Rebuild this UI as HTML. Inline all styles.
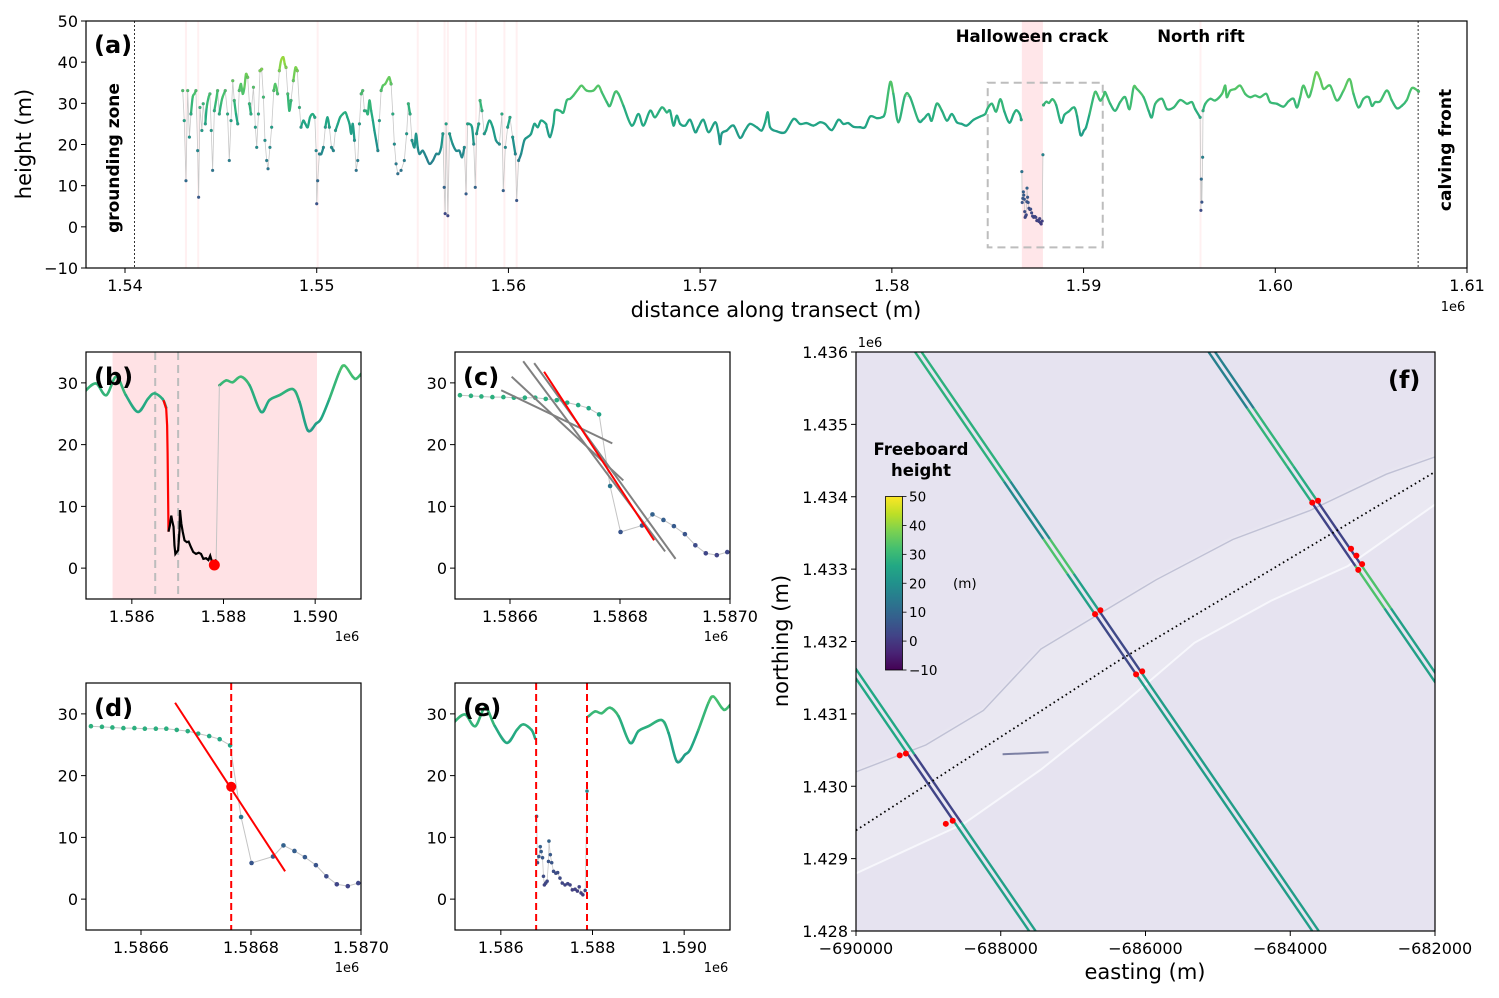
<!DOCTYPE html>
<html><head><meta charset="utf-8">
<style>
body{margin:0;background:#fff;width:1499px;height:998px;overflow:hidden}
svg{display:block;font-family:"DejaVu Sans","Liberation Sans",sans-serif}
</style></head>
<body>
<svg id="fig" width="1499" height="998" viewBox="0 0 1499 998">
<defs>
<clipPath id="clipA"><rect x="86" y="21" width="1381" height="247"/></clipPath>
<clipPath id="clipB"><rect x="86" y="352" width="275" height="247"/></clipPath>
<clipPath id="clipC"><rect x="455" y="352" width="275" height="247"/></clipPath>
<clipPath id="clipD"><rect x="86" y="683" width="275" height="247"/></clipPath>
<clipPath id="clipE"><rect x="455" y="683" width="275" height="247"/></clipPath>
<clipPath id="clipF"><rect x="856" y="352" width="579" height="579"/></clipPath>
<linearGradient id="cbGrad" x1="0" y1="1" x2="0" y2="0">
<stop offset="0" stop-color="#440154"/><stop offset="0.1" stop-color="#482475"/><stop offset="0.2" stop-color="#414487"/><stop offset="0.3" stop-color="#355f8d"/><stop offset="0.4" stop-color="#2a788e"/><stop offset="0.5" stop-color="#21918c"/><stop offset="0.6" stop-color="#22a884"/><stop offset="0.7" stop-color="#44bf70"/><stop offset="0.8" stop-color="#7ad151"/><stop offset="0.9" stop-color="#bddf26"/><stop offset="1" stop-color="#fde725"/>
</linearGradient>
<filter id="blur2"><feGaussianBlur stdDeviation="1.2"/></filter>
</defs>
<g id="layer"></g>
<text x="25" y="144" font-size="21" text-anchor="middle" transform="rotate(-90 25 144)" dominant-baseline="middle">height (m)</text>
<text x="776" y="317" font-size="21" text-anchor="middle">distance along transect (m)</text>
<text x="1453" y="311" font-size="13" text-anchor="middle">1e6</text>
<text x="94" y="53" font-size="24" font-weight="bold">(a)</text>
<text x="114" y="158" font-size="17" font-weight="bold" text-anchor="middle" dominant-baseline="middle" transform="rotate(-90 114 158)">grounding zone</text>
<text x="1446" y="150" font-size="17" font-weight="bold" text-anchor="middle" dominant-baseline="middle" transform="rotate(-90 1446 150)">calving front</text>
<text x="1032" y="42" font-size="16.5" font-weight="bold" text-anchor="middle">Halloween crack</text>
<text x="1201" y="42" font-size="16.5" font-weight="bold" text-anchor="middle">North rift</text>
<text x="94" y="385" font-size="24" font-weight="bold">(b)</text>
<text x="463" y="385" font-size="24" font-weight="bold">(c)</text>
<text x="94" y="716" font-size="24" font-weight="bold">(d)</text>
<text x="463" y="716" font-size="24" font-weight="bold">(e)</text>
<text x="347" y="641" font-size="13" text-anchor="middle">1e6</text>
<text x="716" y="641" font-size="13" text-anchor="middle">1e6</text>
<text x="347" y="972" font-size="13" text-anchor="middle">1e6</text>
<text x="716" y="972" font-size="13" text-anchor="middle">1e6</text>
<text x="870" y="347" font-size="13" text-anchor="middle">1e6</text>
<text x="782" y="641" font-size="21" text-anchor="middle" dominant-baseline="middle" transform="rotate(-90 782 641)">northing (m)</text>
<text x="1145" y="979" font-size="21" text-anchor="middle">easting (m)</text>
</svg>
<script>
// ---------- DATA ----------
const profKm=[1543.01,1543.09,1543.18,1543.27,1543.36,1543.44,1543.53,1543.62,1543.70,1543.79,
1543.84,1543.91,1544.01,1544.08,1544.19,1544.26,1544.36,1544.43,1544.50,1544.57,
1544.66,1544.75,1544.83,1544.92,1545.01,1545.09,1545.23,1545.35,1545.44,1545.53,
1545.62,1545.70,1545.79,1545.88,1545.96,1546.05,1546.14,1546.23,1546.31,1546.40,
1546.49,1546.57,1546.70,1546.80,1546.87,1546.96,1547.04,1547.13,1547.22,1547.30,
1547.39,1547.46,1547.56,1547.65,1547.76,1547.84,1547.96,1548.05,1548.14,1548.26,
1548.33,1548.40,1548.49,1548.57,1548.66,1548.78,1548.89,1548.99,1549.10,1549.18,
1549.30,1549.41,1549.53,1549.65,1549.79,1549.90,1549.97,1550.00,1550.05,1550.14,
1550.24,1550.35,1550.45,1550.56,1550.66,1550.77,1550.87,1550.98,1551.10,1551.22,
1551.36,1551.50,1551.60,1551.71,1551.80,1551.88,1551.97,1552.06,1552.14,1552.23,
1552.32,1552.40,1552.49,1552.58,1552.67,1552.75,1552.84,1552.93,1553.01,1553.10,
1553.19,1553.27,1553.36,1553.45,1553.57,1553.71,1553.79,1553.88,1553.97,1554.05,
1554.14,1554.23,1554.40,1554.57,1554.69,1554.78,1554.87,1554.97,1555.10,1555.18,
1555.27,1555.36,1555.53,1555.71,1555.88,1556.06,1556.23,1556.37,1556.49,1556.58,
1556.65,1556.70,1556.75,1556.84,1556.93,1557.09,1557.27,1557.44,1557.58,1557.70,
1557.79,1557.87,1557.96,1558.10,1558.19,1558.27,1558.34,1558.45,1558.52,1558.62,
1558.74,1558.83,1559.00,1559.18,1559.35,1559.53,1559.66,1559.73,1559.84,1559.96,
1560.08,1560.22,1560.36,1560.43,1560.53,1560.66,1560.83,1561.00,1561.18,1561.35,
1561.53,1561.70,1561.96,
1562.00,1562.17,1562.35,1562.43,1562.69,1562.87,1563.04,1563.22,1563.39,1563.65,
1563.82,1564.08,1564.43,1564.69,1564.87,1565.13,1565.30,1565.56,1565.74,1566.00,
1566.43,1566.78,1567.04,1567.39,1567.65,1568.00,1568.26,1568.43,1568.61,1568.78,
1568.96,1569.22,1569.48,1569.74,1569.91,1570.17,1570.44,1570.79,1570.96,1571.04,
1571.13,1571.39,1571.74,1572.08,1572.34,1572.60,1572.95,1573.21,1573.39,1573.53,
1573.65,1574.00,1574.43,1574.87,1575.21,1575.56,1575.91,1576.26,1576.52,1576.87,
1577.21,1577.47,1577.73,1578.00,1578.34,1578.60,1578.87,1579.21,1579.47,1579.65,
1579.91,1580.08,1580.34,1580.69,1580.95,1581.39,1581.65,1581.91,1582.08,1582.34,
1582.61,1582.87,1583.13,1583.39,1583.65,1583.91,1584.26,1584.61,1584.87,
1585.00,1585.22,1585.44,1585.66,1585.87,1586.13,1586.35,1586.49,1586.67,1586.75];
const profH=[33.1,25.8,11.2,33.1,21.8,27.4,31.5,32.3,33.1,18.5,
7.2,29.0,23.4,29.9,25.0,29.0,31.5,32.3,23.4,13.7,
28.2,30.7,33.1,27.4,29.9,31.5,33.1,27.4,16.1,25.8,
35.5,30.7,27.4,25.0,33.1,34.7,32.3,33.9,37.1,36.3,
29.9,27.4,33.9,24.2,19.3,27.4,37.9,38.3,31.5,21.0,
16.1,14.1,19.3,24.2,33.1,34.7,32.3,37.9,40.4,41.2,
39.6,38.7,32.3,28.2,30.7,35.5,38.7,37.9,29.0,24.2,
25.8,25.0,24.2,26.6,27.4,26.6,18.5,5.6,11.2,17.7,
17.7,19.3,24.2,26.6,24.2,19.3,18.5,23.4,25.0,26.6,
27.4,27.8,26.6,25.0,22.6,25.0,21.0,13.7,16.1,25.0,
32.3,33.1,28.2,28.2,27.4,30.7,28.2,25.8,23.4,21.0,
18.5,25.8,33.1,34.3,34.7,35.9,36.3,34.7,27.4,20.1,
15.3,12.9,13.7,16.1,22.6,29.9,27.4,21.0,19.3,22.6,
19.3,17.7,18.5,16.9,15.3,16.1,17.7,17.7,19.3,22.6,
9.6,3.2,25.0,2.7,22.6,20.1,18.5,18.5,16.9,19.3,
8.0,25.0,25.0,24.2,20.1,9.6,22.6,25.0,30.7,28.2,
22.6,23.4,25.8,24.2,21.0,20.1,27.4,8.8,19.3,24.2,
26.6,21.8,17.7,6.4,16.1,17.7,21.0,21.8,22.6,25.0,
24.2,25.8,25.0,
24.2,21.8,25.0,28.2,28.2,27.8,30.7,31.1,31.9,33.5,
34.3,33.1,33.1,34.3,32.7,30.3,29.4,32.7,32.3,29.4,
24.6,27.4,24.6,28.2,26.6,29.0,27.8,28.2,24.6,27.0,
25.0,24.6,26.0,23.0,24.2,26.0,23.0,25.4,22.6,20.1,
22.7,23.4,24.6,21.6,23.4,25.0,24.2,23.4,25.4,27.8,
24.2,23.2,23.0,26.2,25.0,25.2,24.6,25.4,25.0,23.5,
26.0,25.0,25.2,24.3,24.2,24.2,26.8,26.4,26.6,27.8,
35.1,32.3,25.4,31.9,31.5,25.8,26.2,27.4,25.8,29.9,
28.2,25.8,27.4,25.4,25.0,24.6,26.0,26.8,27.4,
28.8,29.9,28.0,31.0,28.0,25.3,27.4,28.3,27.4,26.0];
const crackKm=[1586.78,1586.80,1586.83,1586.86,1586.88,1586.91,1586.93,1586.95,1586.98,1587.01,1587.04,1587.05,1587.08,1587.11,1587.15,1587.20,1587.24,1587.29,1587.34,1587.40,1587.46,1587.51,1587.56,1587.62,1587.67,1587.71,1587.75,1587.79,1587.84,1587.88];
const crackH=[13.4,5.9,6.9,8.5,7.7,6.7,3.7,2.3,2.6,2.9,6.1,9.4,7.2,5.9,4.5,4.2,4.3,3.4,2.6,2.3,2.5,2.3,1.5,1.6,1.3,2.0,1.0,0.7,1.4,17.5];
const eastKm=[1587.91,1588.06,1588.20,1588.38,1588.57,1588.82,1589.00,1589.22,1589.51,1589.66,1589.84,1590.02,1590.13,1590.31,1590.53,1590.64,1590.82,1590.90,1591.04,
1591.13,1591.39,1591.65,1591.91,1592.17,1592.40,1592.61,1592.78,1593.13,1593.39,1593.56,1593.74,1594.09,1594.35,1594.70,1595.04,1595.39,1595.65,1595.82,1596.08,1596.12,1596.14,1596.17,1596.21,1596.23,1596.35,1596.61,1596.87,1597.22,1597.39,1597.47,1597.65,1597.91,1598.17,1598.43,1598.69,1598.95,1599.21,1599.53,1599.73,1600.08,1600.43,1600.69,1600.95,1601.13,1601.30,1601.47,1601.73,1601.91,1602.13,1602.34,1602.52,1602.86,1603.21,1603.56,1603.87,1604.08,1604.34,1604.60,1604.87,1605.04,1605.21,1605.47,1605.82,1606.08,1606.34,1606.60,1606.86,1607.13,1607.47];
const eastH=[29.6,30.4,30.1,31.0,29.6,25.3,27.2,28.0,29.0,26.9,22.3,23.4,24.2,27.4,31.8,32.8,31.0,30.7,31.8,
32.7,29.9,28.2,30.3,31.5,28.6,33.9,33.5,31.5,28.2,26.6,29.9,31.1,28.6,29.0,30.8,29.9,30.3,28.6,26.6,4.0,11.6,6.0,16.9,28.2,29.9,31.1,30.7,32.3,34.3,31.5,33.1,33.5,34.3,32.3,31.5,31.9,31.5,32.3,30.3,29.9,29.2,30.5,31.1,29.0,31.5,34.3,31.5,33.5,37.5,35.9,33.5,34.3,30.7,33.1,35.9,32.3,29.0,31.1,31.5,29.4,30.3,30.5,33.1,30.7,28.8,29.4,30.8,33.7,32.9];
const riftKm=[1543.18,1543.82,1550.05,1555.27,1556.67,1556.84,1557.79,1558.31,1559.79,1560.43,1596.10];
const halloweenBand=[1586.78,1587.88];
const groundingKm=1540.5, calvingKm=1607.45;
const fineKm=[1586.509,1586.529,1586.548,1586.568,1586.588,1586.607,1586.627,1586.646,1586.665,1586.685,1586.704,1586.724,1586.743,1586.762,1586.782,1586.801,1586.840,1586.859,1586.879,1586.898,1586.918,1586.937,1586.956,1586.976,1586.995];
const fineH=[28.0,27.9,27.8,27.7,27.7,27.6,27.6,27.6,27.4,27.2,26.8,26.4,25.9,24.9,13.3,5.85,6.9,8.7,7.8,6.8,5.5,3.7,2.4,2.1,2.6];
const fitStartKm=[1586.624,1586.644,1586.603,1586.584];
const fitStartH=[33.5,33.2,31.0,28.8];
const fitEndKm=[1586.882,1586.901,1586.806,1586.786];
const fitEndH=[2.7,1.5,14.2,20.2];
const bestFitKm=[1586.662,1586.862];
const bestFitH=[31.8,4.5];
const edgeKm=1586.764, edgeH=18.2;
const redCurveKm=[1586.69,1586.75,1586.77,1586.78,1586.80];
const redCurveH=[27.2,25.8,23.1,18.8,5.9];
const floorPointKm=1587.80, floorPointH=0.5;
const bDashKm=[1586.51,1587.01];
const bBand=[1585.58,1590.04];
const eDashKm=[1586.77,1587.88];
const trackE0=[-689184,-685128,-693096];
const trackSlope=0.686;
const beamOffset=90;
const trackBreaksA=[1436000,1434211,1433415,1432937,1432406,1431567,1428000];
const trackHA=[28,18,33,24,3,23];
const trackBreaksB=[1436000,1435220,1434423,1433935,1433043,1432459,1428000];
const trackHB=[16,29,27,2,33,24];
const trackBreaksC=[1433000,1430442,1429497,1428000];
const trackHC=[26,2,24];
const edgeE=[-686697,-686623,-686130,-686045,-683696,-683616,-683160,-683086,-683007,-683060,-689396,-689311,-688759,-688664];
const edgeN=[1432379,1432432,1431546,1431588,1433919,1433945,1433282,1433186,1433069,1432990,1430426,1430452,1429481,1429523];
const transectE=[-690000,-686384,-682000];
const transectN=[1429390,1431726,1434344];

// ---------- HELPERS ----------
const NS='http://www.w3.org/2000/svg';
const layer=document.getElementById('layer');
function lin(d0,d1,r0,r1){return v=>r0+(v-d0)/(d1-d0)*(r1-r0);}
function el(tag,attrs,parent,name){
  const e=document.createElementNS(NS,tag);
  for(const k in attrs) e.setAttribute(k,attrs[k]);
  
  
  parent.appendChild(e);return e;
}
function txt(s,attrs,parent,name){const t=el('text',attrs,parent,name);t.textContent=s;return t;}
const VIR=[[68,1,84],[72,36,117],[65,68,135],[53,95,141],[42,120,142],[33,145,140],[34,168,132],[68,191,112],[122,209,81],[189,223,38],[253,231,37]];
function vir(h){let t=(h+10)/60;t=Math.max(0,Math.min(1,t));const f=t*10,i=Math.min(9,Math.floor(f)),r=f-i;
 const a=VIR[i],b=VIR[i+1];return 'rgb('+[0,1,2].map(k=>Math.round(a[k]+(b[k]-a[k])*r)).join(',')+')';}
function minus(s){return String(s).replace('-','\u2212');}
function frame(x,y,w,h,name){
  el('rect',{x:x,y:y,width:w,height:h,fill:'none',stroke:'#000','stroke-width':1.2},layer,name);
}
function xTicks(vals,labels,X,yb,g,name){
  vals.forEach((v,i)=>{
    el('line',{x1:X(v),x2:X(v),y1:yb,y2:yb+5,stroke:'#000','stroke-width':1},g,name+'-tick');
    txt(labels[i],{x:X(v),y:yb+23,'font-size':16,'text-anchor':'middle'},g,name+'-label');
  });
}
function yTicks(vals,labels,Y,xl,g,name){
  vals.forEach((v,i)=>{
    el('line',{x1:xl-5,x2:xl,y1:Y(v),y2:Y(v),stroke:'#000','stroke-width':1},g,name+'-tick');
    txt(labels[i],{x:xl-8,y:Y(v)+6,'font-size':16,'text-anchor':'end'},g,name+'-label');
  });
}
function profile(g,xs,ys,X,Y,opt){
  const pts=xs.map((x,i)=>X(x)+','+Y(ys[i])).join(' ');
  el('polyline',{points:pts,fill:'none',stroke:'#c8c8c8','stroke-width':0.8},g,'profile-connector');
  const ok=i=>{
    if(i<0||i>=xs.length-1) return false;
    const lim=xs[i]>1561.9?7.5:4.5;
    return opt.w>0&&Math.abs(ys[i+1]-ys[i])<lim&&xs[i+1]-xs[i]<opt.gap&&ys[i]>15&&ys[i+1]>15;
  };
  for(let i=0;i<xs.length-1;i++){
    if(!ok(i)) continue;
    const p1=[X(xs[i]),Y(ys[i])],p2=[X(xs[i+1]),Y(ys[i+1])];
    const p0=ok(i-1)?[X(xs[i-1]),Y(ys[i-1])]:p1;
    const p3=ok(i+1)?[X(xs[i+2]),Y(ys[i+2])]:p2;
    const c1=[p1[0]+(p2[0]-p0[0])/6,p1[1]+(p2[1]-p0[1])/6];
    const c2=[p2[0]-(p3[0]-p1[0])/6,p2[1]-(p3[1]-p1[1])/6];
    el('path',{d:'M'+p1+' C'+c1+' '+c2+' '+p2,fill:'none',stroke:vir((ys[i]+ys[i+1])/2),'stroke-width':opt.w,'stroke-linecap':'round'},g,'profile-segment');
  }
  if(opt.r>0) xs.forEach((x,i)=>{
    if(ok(i)&&ok(i-1)) return;
    el('circle',{cx:X(x),cy:Y(ys[i]),r:opt.r,fill:vir(ys[i]),stroke:'rgba(60,60,90,0.35)','stroke-width':0.4},g,'profile-point');
  });
}

// ---------- PANEL A ----------
(function(){
  const g=el('g',{'clip-path':'url(#clipA)'},layer,'panel-a-plot');
  const X=lin(1540,1610,125,1467),Y=lin(-10,50,268,21);
  riftKm.forEach(k=>el('rect',{x:X(k)-1,y:21,width:2,height:247,fill:'#fff0f1'},g,'rift-band'));
  el('rect',{x:X(halloweenBand[0]),y:21,width:X(halloweenBand[1])-X(halloweenBand[0]),height:247,fill:'#ffe6e9'},g,'halloween-band');
  el('rect',{x:X(1585),y:Y(35),width:X(1591)-X(1585),height:Y(-5)-Y(35),fill:'none',stroke:'#bdbdbd','stroke-width':2,'stroke-dasharray':'8,5'},g,'zoom-box');
  el('line',{x1:X(groundingKm),x2:X(groundingKm),y1:21,y2:268,stroke:'#000','stroke-width':0.8,'stroke-dasharray':'2,2'},g,'grounding-zone-line');
  el('line',{x1:X(calvingKm),x2:X(calvingKm),y1:21,y2:268,stroke:'#000','stroke-width':0.8,'stroke-dasharray':'2,2'},g,'calving-front-line');
  profile(g,profKm,profH,X,Y,{gap:0.6,w:2.3,r:1.5});
  profile(g,crackKm,crackH,X,Y,{gap:0,w:0,r:1.5});
  profile(g,eastKm,eastH,X,Y,{gap:0.6,w:2.3,r:1.5});
  frame(86,21,1381,247,'panel-a-frame');
  const ga=el('g',{},layer,'panel-a-axes');
  xTicks([1540,1550,1560,1570,1580,1590,1600,1610],['1.54','1.55','1.56','1.57','1.58','1.59','1.60','1.61'],X,268,ga,'a-x');
  yTicks([-10,0,10,20,30,40,50],['\u221210','0','10','20','30','40','50'],Y,86,ga,'a-y');
})();

// ---------- PANELS B & E ----------
function panelBE(px,py,isE){
  const clip=isE?'url(#clipE)':'url(#clipB)';
  const tag=isE?'e':'b';
  const g=el('g',{'clip-path':clip},layer,'panel-'+tag+'-plot');
  const X=lin(1585,1591,px,px+275),Y=lin(-5,35,py+247,py);
  if(!isE){
    el('rect',{x:X(bBand[0]),y:py,width:X(bBand[1])-X(bBand[0]),height:247,fill:'#ffe2e5'},g,'crack-band');
    bDashKm.forEach(k=>el('line',{x1:X(k),x2:X(k),y1:py,y2:py+247,stroke:'#bdbdbd','stroke-width':2,'stroke-dasharray':'8,5'},g,'window-line'));
  }
  profile(g,profKm,profH,X,Y,{gap:0.6,w:2.6,r:0.9});
  profile(g,eastKm,eastH,X,Y,{gap:0.6,w:2.6,r:0.9});
  if(isE){
    profile(g,crackKm,crackH,X,Y,{gap:0,w:0,r:1.7});
    eDashKm.forEach(k=>el('line',{x1:X(k),x2:X(k),y1:py,y2:py+247,stroke:'#ff0000','stroke-width':2,'stroke-dasharray':'7,4'},g,'crack-edge-line'));
  } else {
    el('polyline',{points:[crackKm[28],crackKm[29],eastKm[0]].map((k,i)=>X(k)+','+Y([crackH[28],crackH[29],eastH[0]][i])).join(' '),fill:'none',stroke:'#c4c4c4','stroke-width':1},g,'crack-exit-line');
    el('polyline',{points:redCurveKm.map((k,i)=>X(k)+','+Y(redCurveH[i])).join(' '),fill:'none',stroke:'#ff0000','stroke-width':2.2},g,'wall-fit-curve');
    el('polyline',{points:crackKm.slice(1,29).map((k,i)=>X(k)+','+Y(crackH[i+1])).join(' '),fill:'none',stroke:'#000','stroke-width':2.2},g,'crack-floor-line');
    el('circle',{cx:X(floorPointKm),cy:Y(floorPointH),r:5.5,fill:'#ff0000'},g,'floor-point');
  }
  frame(px,py,275,247,'panel-'+tag+'-frame');
  const ga=el('g',{},layer,'panel-'+tag+'-axes');
  xTicks([1586,1588,1590],['1.586','1.588','1.590'],X,py+247,ga,tag+'-x');
  yTicks([0,10,20,30],['0','10','20','30'],Y,px,ga,tag+'-y');
}
panelBE(86,352,false);
panelBE(455,683,true);

// ---------- PANELS C & D ----------
function panelCD(px,py,isD){
  const tag=isD?'d':'c';
  const g=el('g',{'clip-path':isD?'url(#clipD)':'url(#clipC)'},layer,'panel-'+tag+'-plot');
  const X=lin(1586.5,1587.0,px,px+275),Y=lin(-5,35,py+247,py);
  el('polyline',{points:fineKm.map((k,i)=>X(k)+','+Y(fineH[i])).join(' '),fill:'none',stroke:'#c4c4c4','stroke-width':1},g,'fine-connector');
  fineKm.forEach((k,i)=>el('circle',{cx:X(k),cy:Y(fineH[i]),r:2.3,fill:vir(fineH[i])},g,'fine-point'));
  if(!isD){
    fitStartKm.forEach((k,i)=>el('line',{x1:X(k),y1:Y(fitStartH[i]),x2:X(fitEndKm[i]),y2:Y(fitEndH[i]),stroke:'#808080','stroke-width':2},g,'candidate-fit'));
  } else {
    el('line',{x1:X(edgeKm),x2:X(edgeKm),y1:py,y2:py+247,stroke:'#ff0000','stroke-width':2,'stroke-dasharray':'7,4'},g,'edge-line');
  }
  el('line',{x1:X(bestFitKm[0]),y1:Y(bestFitH[0]),x2:X(bestFitKm[1]),y2:Y(bestFitH[1]),stroke:'#ff0000','stroke-width':2},g,'best-fit');
  if(isD) el('circle',{cx:X(edgeKm),cy:Y(edgeH),r:5,fill:'#ff0000'},g,'edge-point');
  frame(px,py,275,247,'panel-'+tag+'-frame');
  const ga=el('g',{},layer,'panel-'+tag+'-axes');
  xTicks([1586.6,1586.8,1587.0],['1.5866','1.5868','1.5870'],X,py+247,ga,tag+'-x');
  yTicks([0,10,20,30],['0','10','20','30'],Y,px,ga,tag+'-y');
}
panelCD(455,352,false);
panelCD(86,683,true);

// ---------- PANEL F ----------
(function(){
  const g=el('g',{'clip-path':'url(#clipF)'},layer,'panel-f-map');
  const X=lin(-690000,-682000,856,1435),Y=lin(1436000,1428000,352,931);
  el('rect',{x:856,y:352,width:579,height:579,fill:'#e6e3f0'},g,'map-background');
  const P=(zx,zy)=>(856+(zx-18)/1509*579).toFixed(1)+','+(352+(zy-33)/1507*579).toFixed(1);
  const up=[[18,1120],[200,1050],[350,960],[500,800],[650,710],[800,620],[1000,515],[1200,440],[1400,345],[1527,300]];
  const lo=[[1527,430],[1300,590],[1100,680],[900,790],[700,960],[500,1120],[300,1260],[18,1390]];
  el('polygon',{points:up.concat(lo).map(p=>P(p[0],p[1])).join(' '),fill:'#eae8f2',filter:'url(#blur2)'},g,'rift-zone');
  el('polyline',{points:up.map(p=>P(p[0],p[1]+6)).join(' '),fill:'none',stroke:'#a4a7c2','stroke-width':1.4,opacity:0.6},g,'rift-upper-edge');
  el('polyline',{points:lo.map(p=>P(p[0],p[1])).join(' '),fill:'none',stroke:'#f7f7fc','stroke-width':2},g,'rift-lower-edge');
  el('polyline',{points:[P(400,1080),P(520,1075)].join(' '),fill:'none',stroke:'#7c80a4','stroke-width':2},g,'ice-feature');
  const tracks=[[trackBreaksA,trackHA],[trackBreaksB,trackHB],[trackBreaksC,trackHC]];
  tracks.forEach((t,ti)=>{
    const br=t[0],hs=t[1];
    [0,beamOffset].forEach(off=>{
      for(let s=0;s<hs.length;s++){
        const e1=trackE0[ti]+off+(1436000-br[s])*trackSlope, e2=trackE0[ti]+off+(1436000-br[s+1])*trackSlope;
        el('line',{x1:X(e1),y1:Y(br[s]),x2:X(e2),y2:Y(br[s+1]),stroke:vir(hs[s]),'stroke-width':2.4},g,'track-segment');
      }
    });
  });
  el('polyline',{points:transectE.map((e,i)=>X(e)+','+Y(transectN[i])).join(' '),fill:'none',stroke:'#000','stroke-width':1.8,'stroke-dasharray':'1.6,3.2'},g,'transect-line');
  edgeE.forEach((e,i)=>el('circle',{cx:X(e),cy:Y(edgeN[i]),r:3,fill:'#ff0000'},g,'crack-edge-point'));
  txt('(f)',{x:1388,y:388,'font-size':24,'font-weight':'bold'},g,'panel-f-label');
  txt('Freeboard',{x:921,y:455,'font-size':16.5,'font-weight':'bold','text-anchor':'middle'},g,'colorbar-title');
  txt('height',{x:921,y:476,'font-size':16.5,'font-weight':'bold','text-anchor':'middle'},g,'colorbar-title-2');
  el('rect',{x:885.5,y:496.5,width:17,height:173.5,fill:'url(#cbGrad)',stroke:'#000','stroke-width':0.8},g,'colorbar');
  const CB=lin(-10,50,670,496.5);
  [-10,0,10,20,30,40,50].forEach(v=>{
    el('line',{x1:902.5,x2:906.5,y1:CB(v),y2:CB(v),stroke:'#000','stroke-width':0.8},g,'colorbar-tick');
    txt(minus(v),{x:909,y:CB(v)+5,'font-size':13.5},g,'colorbar-tick-label');
  });
  txt('(m)',{x:953,y:588,'font-size':13.5},g,'colorbar-unit');
  frame(856,352,579,579,'panel-f-frame');
  const ga=el('g',{},layer,'panel-f-axes');
  const ex=[-690000,-688000,-686000,-684000,-682000];
  xTicks(ex,ex.map(minus),X,931,ga,'f-x');
  const ny=[1428000,1429000,1430000,1431000,1432000,1433000,1434000,1435000,1436000];
  yTicks(ny,ny.map(v=>(v/1e6).toFixed(3)),Y,856,ga,'f-y');
})();
</script>
</body></html>
